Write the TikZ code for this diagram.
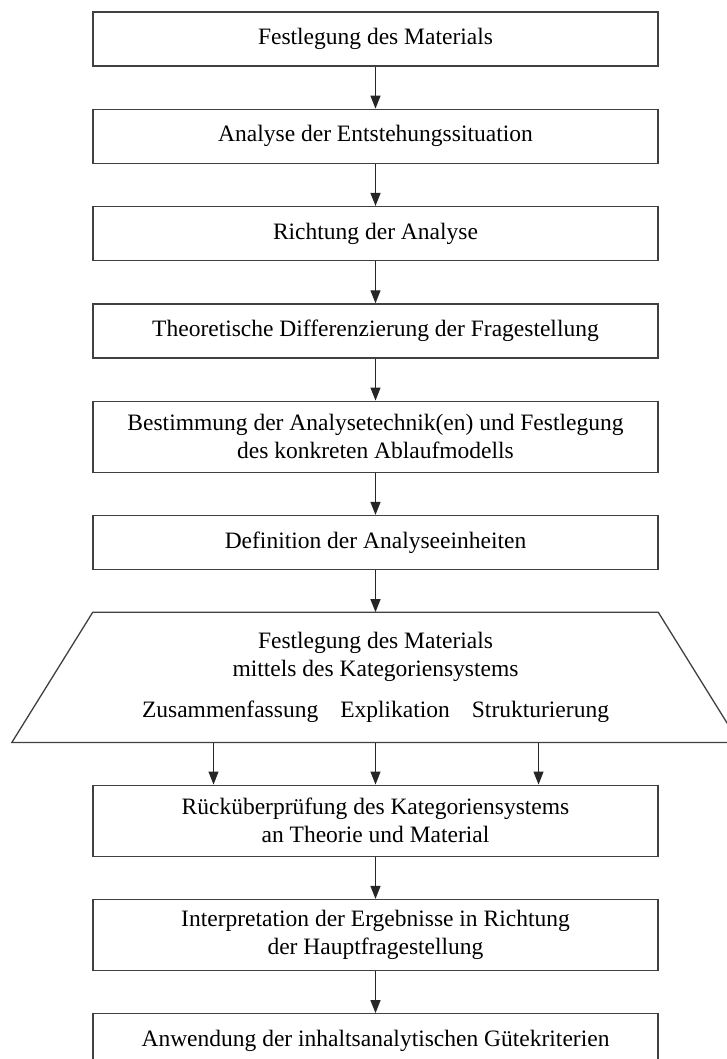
\documentclass[tikz,border=0pt]{standalone}
\usepackage{fontspec}
\setmainfont{Liberation Serif}
\usetikzlibrary{arrows.meta,positioning,calc}

\begin{document}
\begin{tikzpicture}[
  stepbox/.style={rectangle, draw=black!75, line width=1.3pt, minimum width=565pt, minimum height=54pt, inner sep=4pt, font=\fontsize{23.5}{28}\selectfont, align=center},
  twoline/.style={stepbox, minimum height=71pt},
  trapbody/.style={rectangle, minimum width=565pt, minimum height=130pt, inner sep=0pt, font=\fontsize{23.5}{28}\selectfont, align=center},
  trapline/.style={draw=black!75, line width=1.3pt},
  arr/.style={-{Triangle[width=10pt,length=13pt]}, line width=1.2pt, draw=black!85},
  node distance=42pt
]
\useasboundingbox (0,0) rectangle (727pt,-1059pt);
\node[stepbox] (mat) at (375.5pt,-39pt) {Festlegung des Materials};
\node[stepbox, below=of mat] (entst) {Analyse der Entstehungssituation};
\node[stepbox, below=of entst] (richt) {Richtung der Analyse};
\node[stepbox, below=of richt] (theo) {Theoretische Differenzierung der Fragestellung};
\node[twoline, below=of theo] (technik) {Bestimmung der Analysetechnik(en) und Festlegung\\des konkreten Ablaufmodells};
\node[stepbox, below=of technik] (einh) {Definition der Analyseeinheiten};
\node[trapbody, below=of einh] (katsys) {Festlegung des Materials\\mittels des Kategoriensystems\\[13pt]Zusammenfassung\hspace{22pt}Explikation\hspace{22pt}Strukturierung};
\draw[trapline] (katsys.north west) -- (katsys.north east) -- ([xshift=81pt]katsys.south east) -- ([xshift=-81pt]katsys.south west) -- cycle;
\node[twoline, below=of katsys] (rueck) {Rücküberprüfung des Kategoriensystems\\an Theorie und Material};
\node[twoline, below=of rueck] (interp) {Interpretation der Ergebnisse in Richtung\\der Hauptfragestellung};
\node[stepbox, below=of interp] (guete) {Anwendung der inhaltsanalytischen Gütekriterien};
\draw[arr] (mat) -- (entst);
\draw[arr] (entst) -- (richt);
\draw[arr] (richt) -- (theo);
\draw[arr] (theo) -- (technik);
\draw[arr] (technik) -- (einh);
\draw[arr] (einh) -- (katsys);
\draw[arr] ([xshift=-162pt]katsys.south) -- ([xshift=-162pt]rueck.north);
\draw[arr] (katsys.south) -- (rueck.north);
\draw[arr] ([xshift=163pt]katsys.south) -- ([xshift=163pt]rueck.north);
\draw[arr] (rueck) -- (interp);
\draw[arr] (interp) -- (guete);
\end{tikzpicture}
\end{document}
